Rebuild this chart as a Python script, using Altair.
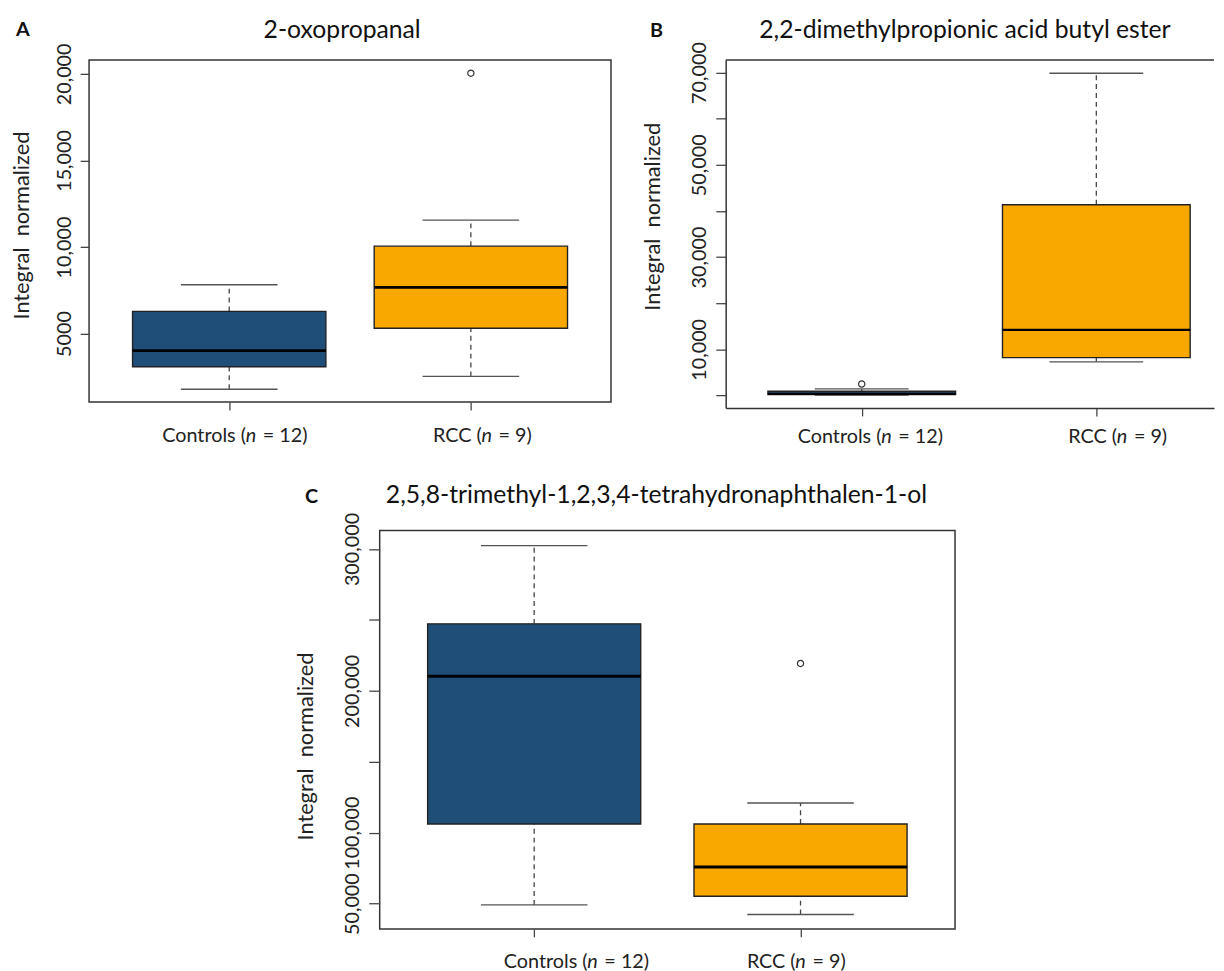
import altair as alt
import pandas as pd

FONT = "Lato"

# ---------------- data ----------------
groups = ["Controls", "RCC"]
group_pos = [1, 2]
group_colors = ["#1F4E79", "#F9A800"]
label_pre = ["Controls (", "RCC ("]
label_n = ["n", "n"]
label_post = ["= 12)", "= 9)"]
y_title = "Integral\u00a0 normalized"

# Panel A: 2-oxopropanal
a_title = "2-oxopropanal"
a_lower = [1785, 2527]
a_q1 = [3081, 5308]
a_median = [4012, 7667]
a_q3 = [6279, 10048]
a_upper = [7820, 11550]
a_out_group = ["RCC"]
a_out_value = [20040]
a_ticks = [5000, 10000, 15000, 20000]
a_tick_labels = ["5000", "10,000", "15,000", "20,000"]

# Panel B: 2,2-dimethylpropionic acid butyl ester
b_title = "2,2-dimethylpropionic acid butyl ester"
b_lower = [100, 7285]
b_q1 = [180, 8207]
b_median = [350, 14207]
b_q3 = [900, 41354]
b_upper = [1420, 69850]
b_out_group = ["Controls"]
b_out_value = [2486]
b_ticks = [0, 10000, 20000, 30000, 40000, 50000, 60000, 70000]
b_tick_labels = ["", "10,000", "", "30,000", "", "50,000", "", "70,000"]

# Panel C: 2,5,8-trimethyl-1,2,3,4-tetrahydronaphthalen-1-ol
c_title = "2,5,8-trimethyl-1,2,3,4-tetrahydronaphthalen-1-ol"
c_lower = [49093, 42326]
c_q1 = [106090, 55160]
c_median = [210250, 75810]
c_q3 = [247224, 106090]
c_upper = [302337, 120950]
c_out_group = ["RCC"]
c_out_value = [219318]
c_ticks = [50000, 100000, 150000, 200000, 250000, 300000]
c_tick_labels = ["50,000", "100,000", "", "200,000", "", "300,000"]


def box_frame(lower, q1, med, q3, upper):
    return pd.DataFrame({
        "group": groups, "pos": group_pos,
        "lower": lower, "q1": q1, "median": med, "q3": q3, "upper": upper,
        "pre": label_pre, "n": label_n, "post": label_post,
    })


def out_frame(g, v):
    return pd.DataFrame({"group": g, "pos": [group_pos[groups.index(x)] for x in g], "value": v})


def panel(df, odf, title, letter, ticks, tick_labels, st):
    W, H = st["W"], st["H"]
    xs = alt.Scale(domain=st["xdom"], nice=False, zero=False)
    ys = alt.Scale(domain=st["ydom"], nice=False, zero=False)
    label_expr = " : ".join(
        f"datum.value == {v} ? '{t}'" for v, t in zip(ticks, tick_labels)) + " : ''"
    xaxis = alt.Axis(values=group_pos, labels=False, title=None, grid=False,
                     domain=st["frame_axes"], domainColor="#333", domainWidth=1.5,
                     tickSize=8, tickWidth=1.3, tickColor="#444")
    yaxis = alt.Axis(values=ticks, labelExpr=label_expr, title=y_title,
                     titleAngle=270, titleAlign="center", titleBaseline="bottom",
                     titleX=st["tx"], titleY=st["ty"], titleFont=FONT,
                     titleFontSize=22, titleFontWeight="normal", titleColor="#222",
                     labelAngle=270, labelAlign="center", labelBaseline="alphabetic",
                     labelPadding=st["lp"], labelFont=FONT, labelFontSize=20,
                     labelColor="#222", labelOverlap=False, labelFlush=False,
                     tickSize=st["ts"], tickWidth=1.3, tickColor="#444", grid=False,
                     domain=st["frame_axes"], domainColor="#333", domainWidth=1.5)

    o0, o1 = st["ndx"]
    ppu = W / (st["xdom"][1] - st["xdom"][0])
    base = alt.Chart(df).transform_calculate(
        xl="datum.pos - 0.4", xr="datum.pos + 0.4",
        cl="datum.pos - 0.2", cr="datum.pos + 0.2",
        nx=f"datum.pos + (datum.group == 'Controls' ? {o0 / ppu} : {o1 / ppu})",
    )

    def X(f):
        return alt.X(f, scale=xs, axis=xaxis, title=None)

    def Y(f):
        return alt.Y(f, scale=ys, axis=yaxis, title=y_title)

    whisk_hi = base.mark_rule(strokeDash=[5, 4], color="#444", strokeWidth=1.3).encode(
        x=X("pos:Q"), y=Y("q3:Q"), y2="upper:Q")
    whisk_lo = base.mark_rule(strokeDash=[5, 4], color="#444", strokeWidth=1.3).encode(
        x=X("pos:Q"), y=Y("lower:Q"), y2="q1:Q")
    cap_hi = base.mark_rule(color="#555", strokeWidth=1.4).encode(
        x=X("cl:Q"), x2="cr:Q", y=Y("upper:Q"))
    cap_lo = base.mark_rule(color="#555", strokeWidth=1.4).encode(
        x=X("cl:Q"), x2="cr:Q", y=Y("lower:Q"))
    box = base.mark_rect(stroke="#222", strokeWidth=1.4).encode(
        x=X("xl:Q"), x2="xr:Q", y=Y("q1:Q"), y2="q3:Q",
        color=alt.Color("group:N", scale=alt.Scale(domain=groups, range=group_colors),
                        legend=None))
    med = base.mark_rule(color="#000", strokeWidth=st["mw"]).encode(
        x=X("xl:Q"), x2="xr:Q", y=Y("median:Q"))
    outl = alt.Chart(odf).mark_point(shape="circle", filled=False, size=40,
                                     color="#333", strokeWidth=1.2, opacity=1).encode(
        x=X("pos:Q"), y=Y("value:Q"))

    ly = H + st["ly"]
    t_pre = base.mark_text(align="right", baseline="middle", font=FONT, fontSize=20,
                           color="#222", dx=-5).encode(
        x=X("nx:Q"), y=alt.value(ly), text="pre:N")
    t_n = base.mark_text(align="center", baseline="middle", font=FONT, fontSize=20,
                         fontStyle="italic", color="#222").encode(
        x=X("nx:Q"), y=alt.value(ly), text="n:N")
    t_post = base.mark_text(align="left", baseline="middle", font=FONT, fontSize=20,
                            color="#222", dx=12).encode(
        x=X("nx:Q"), y=alt.value(ly), text="post:N")

    ttl = alt.Chart(pd.DataFrame({"t": [title]})).mark_text(
        font=FONT, fontSize=25, align="center", baseline="middle", color="#111").encode(
        x=alt.value(st["title_xy"][0]), y=alt.value(st["title_xy"][1]), text="t:N")
    let = alt.Chart(pd.DataFrame({"t": [letter]})).mark_text(
        font=FONT, fontSize=20, fontWeight="bold", align="center", baseline="middle",
        color="#111").encode(
        x=alt.value(st["letter_xy"][0]), y=alt.value(st["letter_xy"][1]), text="t:N")

    layers = [whisk_hi, whisk_lo, cap_hi, cap_lo, box, med, outl, t_pre, t_n, t_post, ttl, let]
    props = dict(width=W, height=H)
    if st["frame_axes"]:
        top = alt.Chart(pd.DataFrame({"a": [0]})).mark_rule(color="#333", strokeWidth=1.5).encode(
            x=alt.value(0), x2=alt.value(W), y=alt.value(0))
        layers.append(top)
        props["view"] = alt.ViewBackground(stroke="transparent")
    return alt.layer(*layers).properties(**props)


A = panel(box_frame(a_lower, a_q1, a_median, a_q3, a_upper), out_frame(a_out_group, a_out_value),
          a_title, "A", a_ticks, a_tick_labels,
          dict(W=528, H=346, xdom=[0.42, 2.58], ydom=[1043, 20800], tx=-56, ty=167,
               lp=10, ts=9, frame_axes=False, ndx=(22, 16), mw=2.6, ly=34,
               title_xy=(256, -30), letter_xy=(-67, -30)))

B = panel(box_frame(b_lower, b_q1, b_median, b_q3, b_upper), out_frame(b_out_group, b_out_value),
          b_title, "B", b_ticks, b_tick_labels,
          dict(W=494, H=352, xdom=[0.42, 0.42 + 494 / 237.3], ydom=[-2714, 72714], tx=-62, ty=158,
               lp=10, ts=10, frame_axes=True, ndx=(25, 26), mw=2.4, ly=29,
               title_xy=(242, -30), letter_xy=(-70, -29)))

C = panel(box_frame(c_lower, c_q1, c_median, c_q3, c_upper), out_frame(c_out_group, c_out_value),
          c_title, "C", c_ticks, c_tick_labels,
          dict(W=582, H=403, xdom=[0.42, 2.58], ydom=[32140, 312977], tx=-63, ty=218,
               lp=10, ts=11, frame_axes=False, ndx=(59, 0), mw=3.2, ly=33,
               title_xy=(280, -36), letter_xy=(-69, -34)))

spacer = alt.Chart(pd.DataFrame({"a": [0]})).mark_rect(opacity=0).encode(
    x=alt.value(0), x2=alt.value(206), y=alt.value(0), y2=alt.value(1)
).properties(width=206, height=1, view=alt.ViewBackground(stroke="transparent"))

top_row = alt.hconcat(A, B, spacing=29)
bottom_row = alt.hconcat(spacer, C, spacing=0)
chart = alt.vconcat(top_row, bottom_row, spacing=35).properties(
    padding={"left": 2, "top": 4, "right": 0, "bottom": 0}
).configure_view(stroke="#333", strokeWidth=1.5)

chart.save("out.html", embed_options={"renderer": "svg", "actions": False})
